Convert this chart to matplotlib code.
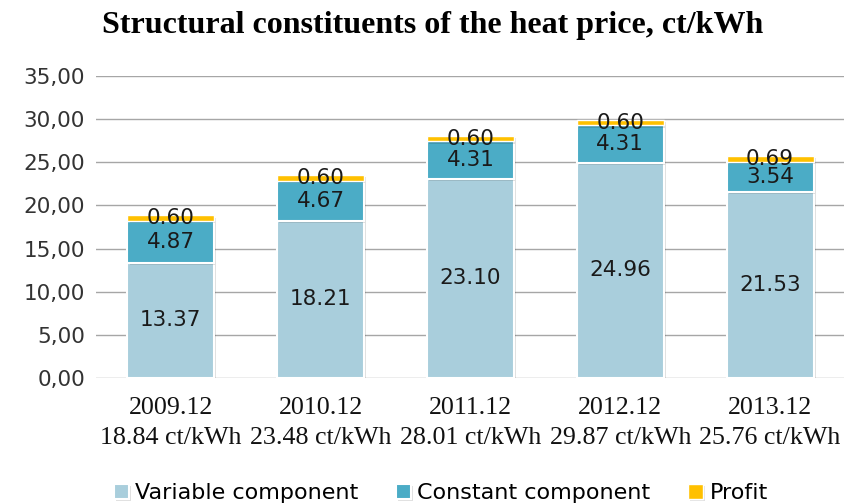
import matplotlib
matplotlib.use("Agg")
import matplotlib.pyplot as plt
import matplotlib.patheffects as pe
import numpy as np

years = ["2009.12", "2010.12", "2011.12", "2012.12", "2013.12"]
totals = ["18.84", "23.48", "28.01", "29.87", "25.76"]
variable = [13.37, 18.21, 23.10, 24.96, 21.53]
constant = [4.87, 4.67, 4.31, 4.31, 3.54]
profit = [0.60, 0.60, 0.60, 0.60, 0.69]

c_var = "#A9CEDC"
c_const = "#4BACC6"
c_profit = "#FFC000"

fig = plt.figure(figsize=(8.45, 5.04), dpi=100)
ax = fig.add_axes([96/845, 1-378/504, (845-96)/845, (378-76)/504])

x = np.arange(len(years))
w = 0.58
v = np.array(variable); c = np.array(constant); p = np.array(profit)
shadow = [pe.SimplePatchShadow(offset=(1.5, -1.5), shadow_rgbFace="#000000", alpha=0.12), pe.Normal()]
b1 = ax.bar(x, v, w, color=c_var, edgecolor="white", linewidth=1.5, label="Variable component", zorder=3)
b2 = ax.bar(x, c, w, bottom=v, color=c_const, edgecolor="white", linewidth=1.5, label="Constant component", zorder=3)
b3 = ax.bar(x, p, w, bottom=v+c, color=c_profit, edgecolor="white", linewidth=1.0, label="Profit", zorder=3)
for bars in (b1, b2, b3):
    for r in bars:
        r.set_path_effects(shadow)

for bars, vals in ((b1, variable), (b2, constant), (b3, profit)):
    ax.bar_label(bars, labels=[f"{val:.2f}" for val in vals], label_type="center", zorder=5,
                 fontsize=15.5, family="DejaVu Sans", color="#1a1a1a")

ax.set_ylim(0, 35)
ax.set_xlim(-0.5, len(years)-0.5)
yt = np.arange(0, 36, 5)
ax.set_yticks(yt)
ax.set_yticklabels([f"{t:.2f}".replace(".", ",") for t in yt], family="DejaVu Sans", fontsize=15.5, color="#333333")
ax.set_xticks(x)
ax.set_xticklabels([f"{y}\n{t} ct/kWh" for y, t in zip(years, totals)], family="Liberation Serif", fontsize=18.7,
                   color="#111111", linespacing=1.45)
ax.tick_params(axis="both", length=0)
ax.tick_params(axis="y", pad=8)
ax.tick_params(axis="x", pad=14)
ax.grid(axis="y", color="#A6A6A6", linewidth=1.0, zorder=0)
for s in ax.spines.values():
    s.set_visible(False)
ax.set_axisbelow(True)

fig.text(433/845, 1-25/504, "Structural constituents of the heat price, ct/kWh", ha="center", va="center",
         family="Liberation Serif", fontweight="bold", fontsize=23)

fig.legend(handles=[b1, b2, b3], loc="center", bbox_to_anchor=(441/845, 1-493/504), ncol=3, frameon=False,
           prop={"family": "DejaVu Sans", "size": 16}, handlelength=0.65, handleheight=0.65, handletextpad=0.3,
           columnspacing=1.7)

fig.savefig("out.png", dpi=100)
